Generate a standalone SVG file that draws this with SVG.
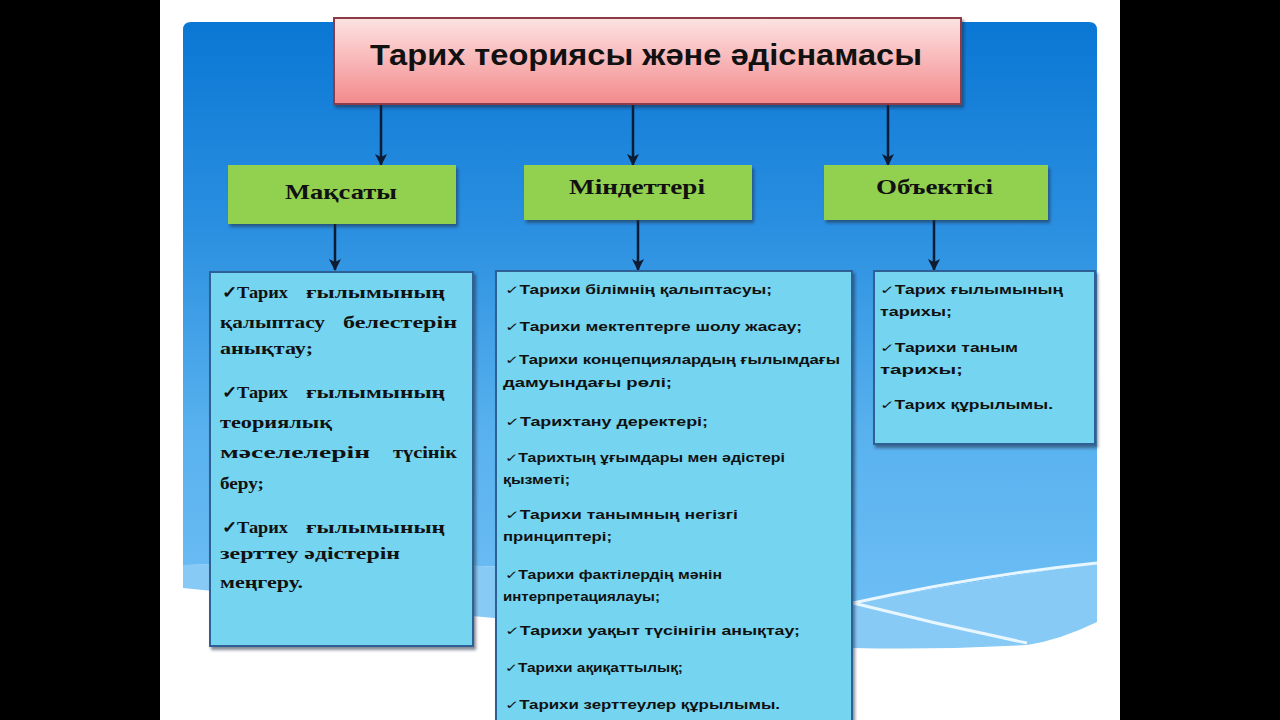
<svg xmlns="http://www.w3.org/2000/svg" width="1280" height="720" viewBox="0 0 1280 720">
<defs>
<linearGradient id="bg" x1="0" y1="0" x2="0" y2="1">
<stop offset="0" stop-color="#0a77d4"/>
<stop offset="0.35" stop-color="#2a8fe0"/>
<stop offset="0.7" stop-color="#58b1ee"/>
<stop offset="1" stop-color="#6cbdf4"/>
</linearGradient>
<linearGradient id="pink" x1="0" y1="0" x2="0" y2="1">
<stop offset="0" stop-color="#fde3e3"/>
<stop offset="1" stop-color="#f3898b"/>
</linearGradient>
<marker id="ah" markerWidth="12" markerHeight="12" refX="11" refY="6" orient="auto" markerUnits="userSpaceOnUse" viewBox="0 0 12 12">
<path d="M0,0 L12,6 L0,12 L3,6 Z" fill="#0d1b33"/>
</marker>
<filter id="sh" x="-10%" y="-10%" width="130%" height="130%">
<feDropShadow dx="2" dy="3" stdDeviation="1.5" flood-color="#1a2a40" flood-opacity="0.55"/>
</filter>
</defs>
<style>
.title{font-family:"Liberation Sans","DejaVu Sans",sans-serif;font-weight:bold;font-size:30px;fill:#111}
.gt{font-family:"Liberation Serif","DejaVu Serif",serif;font-weight:bold;font-size:22px;fill:#111}
.lt{font-family:"Liberation Serif","DejaVu Serif",serif;font-weight:bold;font-size:17px;fill:#111}
.mt{font-family:"Liberation Sans","DejaVu Sans",sans-serif;font-weight:bold;font-size:12px;fill:#111}
.cbox{fill:#74d4ef;stroke:#2d5f95;stroke-width:2}
.green{fill:#92d050}
.conn{stroke:#0d1b33;stroke-width:2.5;fill:none}
</style>
<rect x="0" y="0" width="1280" height="720" fill="#000"/>
<rect x="160" y="0" width="960" height="720" fill="#fff"/>
<g id="background">
<path d="M183,565 Q600,555 853,603 Q980,580 1097,563 L1097,622 Q1060,640 1027,645 Q940,650 853,648 Q600,630 183,588 Z" fill="#86caf5"/>
<path d="M191,22 L1089,22 Q1097,22 1097,30 L1097,563 Q980,580 853,603 Q600,555 183,565 L183,30 Q183,22 191,22 Z" fill="url(#bg)"/>
<path d="M853,603 Q980,575 1097,563" stroke="#e8f6ff" stroke-width="3" fill="none"/>
<path d="M853,603 Q940,625 1027,643" stroke="#e8f6ff" stroke-width="3" fill="none"/>
</g>
<g id="connectors">
<line class="conn" x1="381" y1="104" x2="381" y2="165" marker-end="url(#ah)"/>
<line class="conn" x1="633" y1="104" x2="633" y2="165" marker-end="url(#ah)"/>
<line class="conn" x1="888" y1="104" x2="888" y2="165" marker-end="url(#ah)"/>
<line class="conn" x1="335" y1="224" x2="335" y2="270" marker-end="url(#ah)"/>
<line class="conn" x1="638" y1="220" x2="638" y2="270" marker-end="url(#ah)"/>
<line class="conn" x1="934" y1="220" x2="934" y2="270" marker-end="url(#ah)"/>
</g>
<g id="title-node">
<rect x="334" y="18" width="627" height="86" fill="url(#pink)" stroke="#8c3b48" stroke-width="2" filter="url(#sh)"/>
<text class="title" x="370" y="65" textLength="552" lengthAdjust="spacingAndGlyphs">Тарих теориясы  және әдіснамасы</text>
</g>
<g id="maksaty">
<rect class="green" x="228" y="165" width="228" height="59" filter="url(#sh)"/>
<text class="gt" x="285" y="199" textLength="112" lengthAdjust="spacingAndGlyphs">Мақсаты</text>
</g>
<g id="mindetteri">
<rect class="green" x="524" y="165" width="228" height="55" filter="url(#sh)"/>
<text class="gt" x="569" y="194" textLength="136" lengthAdjust="spacingAndGlyphs">Міндеттері</text>
</g>
<g id="obektisi">
<rect class="green" x="824" y="165" width="224" height="55" filter="url(#sh)"/>
<text class="gt" x="876" y="194" textLength="117" lengthAdjust="spacingAndGlyphs">Объектісі</text>
</g>
<g id="maksaty-list">
<rect class="cbox" x="210" y="272" width="263" height="374" filter="url(#sh)"/>
<text class="lt" x="222" y="298" textLength="66" lengthAdjust="spacingAndGlyphs">✓Тарих</text>
<text class="lt" x="306" y="298" textLength="139" lengthAdjust="spacingAndGlyphs">ғылымының</text>
<text class="lt" x="220" y="328" textLength="105" lengthAdjust="spacingAndGlyphs">қалыптасу</text>
<text class="lt" x="343" y="328" textLength="114" lengthAdjust="spacingAndGlyphs">белестерін</text>
<text class="lt" x="220" y="354" textLength="93" lengthAdjust="spacingAndGlyphs">анықтау;</text>
<text class="lt" x="222" y="398" textLength="66" lengthAdjust="spacingAndGlyphs">✓Тарих</text>
<text class="lt" x="306" y="398" textLength="139" lengthAdjust="spacingAndGlyphs">ғылымының</text>
<text class="lt" x="220" y="428" textLength="112" lengthAdjust="spacingAndGlyphs">теориялық</text>
<text class="lt" x="220" y="458" textLength="150" lengthAdjust="spacingAndGlyphs">мәселелерін</text>
<text class="lt" x="393" y="458" textLength="64" lengthAdjust="spacingAndGlyphs">түсінік</text>
<text class="lt" x="220" y="489" textLength="44" lengthAdjust="spacingAndGlyphs">беру;</text>
<text class="lt" x="222" y="533" textLength="66" lengthAdjust="spacingAndGlyphs">✓Тарих</text>
<text class="lt" x="306" y="533" textLength="139" lengthAdjust="spacingAndGlyphs">ғылымының</text>
<text class="lt" x="220" y="559" textLength="180" lengthAdjust="spacingAndGlyphs">зерттеу әдістерін</text>
<text class="lt" x="220" y="588" textLength="83" lengthAdjust="spacingAndGlyphs">меңгеру.</text>
</g>
<g id="mindetteri-list">
<rect class="cbox" x="496" y="271" width="356" height="460" filter="url(#sh)"/>
<text class="mt" x="505" y="294" textLength="267" lengthAdjust="spacingAndGlyphs">✓Тарихи білімнің қалыптасуы;</text>
<text class="mt" x="505" y="331" textLength="297" lengthAdjust="spacingAndGlyphs">✓Тарихи мектептерге  шолу жасау;</text>
<text class="mt" x="505" y="364" textLength="335" lengthAdjust="spacingAndGlyphs">✓Тарихи концепциялардың ғылымдағы</text>
<text class="mt" x="503" y="387" textLength="169" lengthAdjust="spacingAndGlyphs">дамуындағы  рөлі;</text>
<text class="mt" x="505" y="426" textLength="203" lengthAdjust="spacingAndGlyphs">✓Тарихтану деректері;</text>
<text class="mt" x="505" y="462" textLength="280" lengthAdjust="spacingAndGlyphs">✓Тарихтың ұғымдары мен әдістері</text>
<text class="mt" x="503" y="484" textLength="67" lengthAdjust="spacingAndGlyphs">қызметі;</text>
<text class="mt" x="505" y="519" textLength="233" lengthAdjust="spacingAndGlyphs">✓Тарихи танымның негізгі</text>
<text class="mt" x="503" y="541" textLength="109" lengthAdjust="spacingAndGlyphs">принциптері;</text>
<text class="mt" x="505" y="579" textLength="217" lengthAdjust="spacingAndGlyphs">✓Тарихи фактілердің мәнін</text>
<text class="mt" x="503" y="601" textLength="157" lengthAdjust="spacingAndGlyphs">интерпретациялауы;</text>
<text class="mt" x="505" y="635" textLength="295" lengthAdjust="spacingAndGlyphs">✓Тарихи уақыт түсінігін  анықтау;</text>
<text class="mt" x="505" y="672" textLength="178" lengthAdjust="spacingAndGlyphs">✓Тарихи ақиқаттылық;</text>
<text class="mt" x="505" y="709" textLength="275" lengthAdjust="spacingAndGlyphs">✓Тарихи зерттеулер құрылымы.</text>
</g>
<g id="obektisi-list">
<rect class="cbox" x="874" y="271" width="221" height="173" filter="url(#sh)"/>
<text class="mt" x="880" y="294" textLength="183" lengthAdjust="spacingAndGlyphs">✓Тарих ғылымының</text>
<text class="mt" x="880" y="316" textLength="72" lengthAdjust="spacingAndGlyphs">тарихы;</text>
<text class="mt" x="880" y="352" textLength="138" lengthAdjust="spacingAndGlyphs">✓Тарихи таным</text>
<text class="mt" x="880" y="374" textLength="83" lengthAdjust="spacingAndGlyphs">тарихы;</text>
<text class="mt" x="880" y="409" textLength="173" lengthAdjust="spacingAndGlyphs">✓Тарих құрылымы.</text>
</g>
</svg>
